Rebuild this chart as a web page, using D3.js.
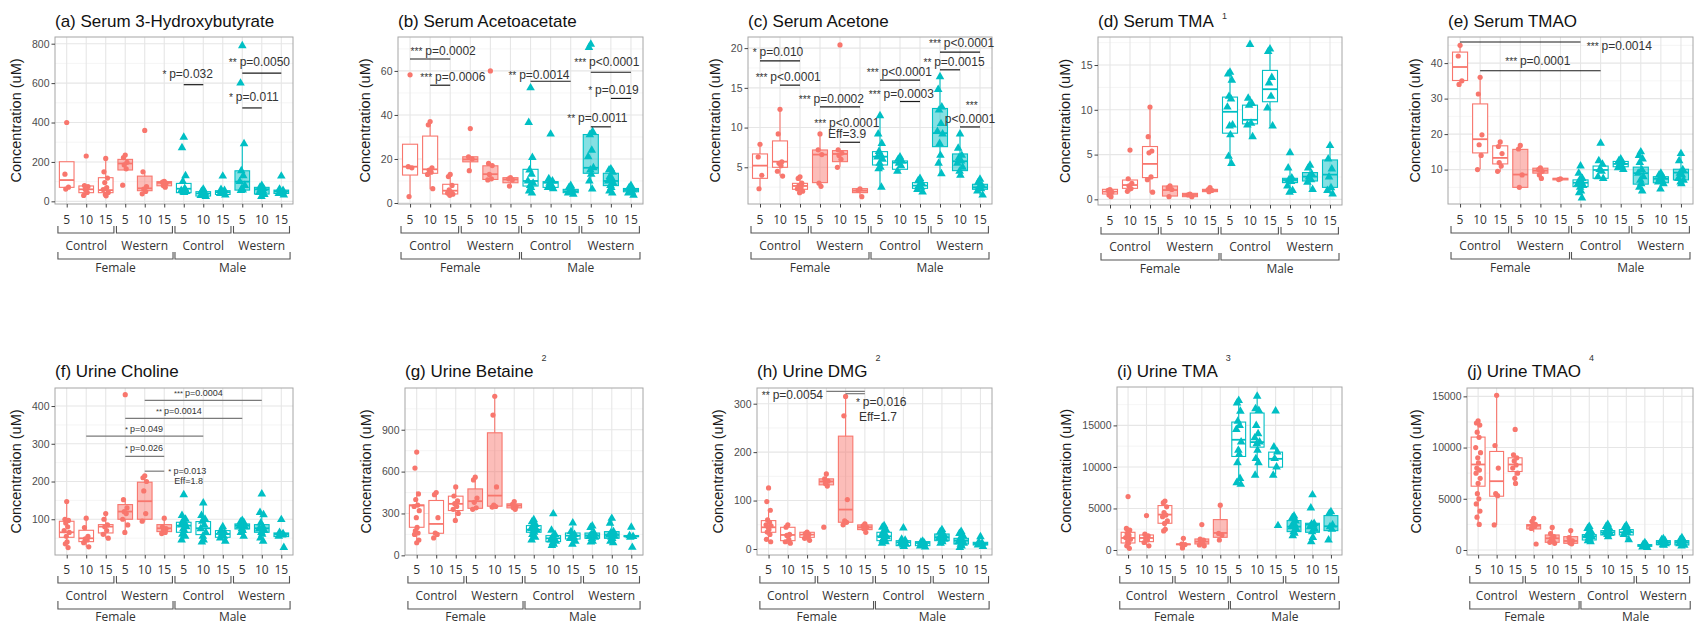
<!DOCTYPE html>
<html>
<head>
<meta charset="utf-8">
<script src="https://cdn.jsdelivr.net/npm/d3@7"></script>
<style>
  body { margin: 0; background: #fff; }
  svg { display: block; }
</style>
</head>
<body>
<svg id="fig" width="1694" height="624"></svg>
<script>
// ---- factor levels -------------------------------------------------------
const doses = ["5", "10", "15"];
const diets = ["Control", "Western"];
const sexes = ["Female", "Male"];

// ---- (a) Serum 3-Hydroxybutyrate ----------------------------------------
// box rows: [lower whisker, Q1, median, Q3, upper whisker]
const hbBox = [[62,71,108,201,201],[30,44,61,78,80],[28,44,57,120,218],[159,159,192,213,235],[38,54,66,128,150],[72,79,94,100,102],
  [40,44,64,91,130],[25,27,40,49,62],[32,35,47,54,62],[55,57,100,155,292],[25,37,61,71,80],[32,40,51,57,62]];
const hbPts = [[400,138,72,62],[230,80,75,60,45,30],[218,150,118,95,70,60,45,35,28],[235,222,198,185,165,82],[360,150,75,62,50,38],[102,98,92,80,72],
  [325,272,130,100,65,55,50,48,45],[62,50,42,38,35,30,25],[128,60,55,50,45,40,32],[790,600,292,155,130,100,80,65,58,55],[80,72,65,60,55,45,35,25],[128,62,55,50,45,40,32]];
const hbDomain = [-13.5, 834];
const hbTicks = [0, 200, 400, 600, 800];
const hbSigLines = [[7,8,592],[10,12,651],[10,11,474]];
const hbSigText = [["*","p=0.032",7.2,628],["**","p=0.0050",10.88,687],["*","p=0.011",10.59,510]];

// ---- (b) Serum Acetoacetate ---------------------------------------------
const aaBox = [[2.9,12.7,16.5,26.7,26.7],[6.2,13.5,15.3,30.4,37.3],[3.5,4.1,5.6,8.5,13.1],[14.7,18.7,19.8,21,21],[10.5,10.7,13.1,16.9,18.3],[7.7,9.2,10.7,11.5,11.5],
  [4.5,7.7,10,15.3,20.7],[6.5,7.1,9.2,9.7,11],[4,4.7,5.4,6.2,8],[6.3,13.5,16,31.1,33],[4.5,7.9,10,13.5,15.5],[3.5,5.1,5.9,6.6,8]];
const aaPts = [[58.2,16.5,16,2.9],[37,35.5,16,15,14,13,6.5],[13,12,8,6,5,4.5,4,3.5],[33.8,21,20,14.7],[60,18,17,13,11,10.5],[11.5,11,10.5,7.7],
  [52.3,36.6,20.7,15,13,10,9,8,7,5.5,4.5],[31.3,11,10,9,8,7,6.5],[8,7,6,5.5,5,4.5,4],[72.1,70.6,32.5,31,24,21,16,15,13,10,6.3],[15.5,15,14,12,11,10,9,8,7,5.5,4.5],[8,7,6,5.5,5,4.5,3.5]];
const aaDomain = [-0.45, 75.4];
const aaTicks = [0, 20, 40, 60];
const aaSigLines = [[1,3,65.4],[2,3,53.5],[7,9,55.3],[10,12,59.4],[11,12,47.5],[10,11,34.6]];
const aaSigText = [["***","p=0.0002",2.65,67.4],["***","p=0.0006",3.13,55.3],["**","p=0.0014",7.42,56.4],["***","p<0.0001",10.8,62.1],["*","p=0.019",11.13,49.3],["**","p=0.0011",10.33,36.9]];

// ---- (c) Serum Acetone ---------------------------------------------------
const acBox = [[2.31,3.61,5.21,6.68,7.94],[3.95,5.0,5.71,8.32,12.4],[1.8,2.23,2.65,2.98,3.8],[2.6,3.07,6.6,7.18,9.2],[5.08,5.71,6.68,7.1,7.2],[1.3,1.81,2.06,2.31,2.31],
  [2.5,5.29,6.34,6.97,11.5],[4.5,4.75,5.59,5.8,6.3],[1.9,2.35,2.69,3.07,3.6],[4.2,7.6,9.3,12.4,16.5],[4.0,4.58,5.76,6.68,9.2],[1.5,2.23,2.48,2.86,3.5]];
const acPts = [[7.9,6.3,4.0,2.3],[12.3,9.2,5.7,5.5,5.2,4.5,3.9],[3.8,3.6,3.0,2.7,2.5,2.3,2.0,1.8],[9.2,7.2,6.6,3.0,2.6],[20.4,7.2,6.8,6.5,6.0,5.0],[2.3,2.1,1.3],
  [11.5,9.2,8.0,7.0,6.5,6.3,6.0,5.5,5.0,4.8,2.5],[6.3,6.0,5.8,5.5,5.2,4.5],[3.6,3.3,3.0,2.7,2.5,2.2,1.9],[16.4,14.8,12.6,12.2,10.5,9.5,9.2,8.0,6.5,5.5,4.2],[9.2,7.4,6.5,6.2,5.8,5.5,5.0,4.5,4.0],[3.5,3.1,2.7,2.5,2.3,2.0,1.5]];
const acDomain = [0.38, 21.4];
const acTicks = [5, 10, 15, 20];
const acSigLines = [[1,3,18.4],[2,3,15.34],[4,6,12.6],[5,6,8.15],[7,9,15.97],[8,9,13.28],[10,12,19.5],[10,11,17.27],[11,12,10.08]];
const acSigText = [["*","p=0.010",1.9,18.95],["***","p<0.0001",2.41,15.8],["***","p=0.0002",4.57,13.1],["***","p<0.0001",5.34,10.04],["","Eff=3.9",5.35,8.66],
  ["***","p<0.0001",7.97,16.43],["***","p=0.0003",8.07,13.74],["***","p<0.0001",11.08,20.08],["**","p=0.0015",10.7,17.8],["***","",11.59,12.4],["","p<0.0001",11.5,10.63]];

// ---- (d) Serum TMA --------------------------------------------------------
const stmaBox = [[0.3,0.6,0.86,1.12,1.12],[0.82,1.23,1.6,2.16,2.35],[0.75,2.43,3.96,5.9,10.37],[0.3,0.37,1.04,1.49,1.5],[0.3,0.3,0.49,0.67,0.67],[0.85,0.86,1.0,1.12,1.3],
  [4.0,7.39,9.78,11.42,14.4],[6.83,8.43,8.88,10.52,11.5],[8.2,10.9,12.3,14.4,16.9],[1.0,1.87,2.16,2.35,3.5],[1.1,2.05,2.54,2.99,3.8],[0.6,1.34,2.76,4.4,6.16]];
const stmaPts = [[1.1,1.0,0.8,0.5,0.3],[5.5,2.3,1.8,1.5,1.2,0.9],[10.3,7.0,5.4,5.2,2.5,2.2,0.8],[1.5,1.3,1.1,0.3],[0.6,0.5,0.3],[1.3,1.1,1.0,0.85],
  [14.2,14.0,13.3,11.5,11.2,10.3,8.3,8.2,7.2,4.8,4.0],[17.3,11.3,10.7,10.5,8.5,8.3,7.0],[16.8,16.5,13.6,13.0,11.5,10.2,8.2],[5.2,3.5,2.4,2.2,2.0,1.5,1.0,0.8],[3.8,3.5,2.8,2.5,2.2,1.9,1.1],[6.0,4.5,3.4,2.5,1.3,1.0,0.6]];
const stmaDomain = [-0.63, 18.13];
const stmaTicks = [0, 5, 10, 15];

// ---- (e) Serum TMAO -------------------------------------------------------
const stmaoBox = [[34.2,35.1,38.9,43.1,45.5],[10.1,14.7,18.56,28.5,36.2],[9.4,11.6,13.3,16.7,18.2],[5.0,5.0,8.6,15.7,16.8],[7.5,9.0,9.7,10.4,10.5],[7.1,7.1,7.4,7.55,7.55],
  [3.5,5.2,6.3,7.1,9.0],[7.5,7.55,9.9,11.0,12.5],[10.0,10.8,11.6,12.3,13.0],[4.1,5.9,9.0,10.7,15.1],[4.5,6.3,7.4,8.0,9.15],[6.0,7.1,9.15,10.1,14.6]];
const stmaoPts = [[45,42,35,34],[36,31.3,19.8,17,14,10],[17.8,16.5,14.5,12,11,9.5],[16.8,15.8,8.5,5.0],[10.5,10,9.5,8.5,7.5],[7.4,7.2],
  [11,9,7.5,7,6.5,6,5.5,5,4,3.5,2],[17.4,12.5,11.5,10,9.5,8.0,7.5],[13,12.5,12,11.5,11,10.5,10],[15,14,13,12,10,9,8,7,6,5,4],[9,8.5,8,7.5,7,6.5,6,4.5],[14.5,12.5,10,9,8.5,7.5,7,6.5,6]];
const stmaoDomain = [0.31, 47.35];
const stmaoTicks = [10, 20, 30, 40];
const stmaoSigLines = [[1,7,45.94],[2,8,37.85]];
const stmaoSigText = [["***","p=0.0014",8.93,43.8],["***","p=0.0001",4.87,39.35]];

// ---- (f) Urine Choline ----------------------------------------------------
const choBox = [[24.8,52.2,65.5,94.7,147],[27.4,40.7,49.6,70.8,103.5],[49.6,63.7,80.5,85.8,115.9],[65.5,100,120.4,138.9,152],[93.8,100,147.8,198.2,217.7],[61,67.3,76.1,85.8,103.5],
  [45.1,65.5,83.2,92,111.5],[39,59.3,76.1,93.8,143.4],[40.7,52.2,61,69.9,83.2],[56.6,74.3,83.2,87.6,99],[40.7,65.5,76.1,85.8,118.6],[54,54,61,63.7,65]];
const choPts = [[147,100,97,90,80,70,65,55,40,35,25],[103,78,55,48,45,38,27],[115,100,85,80,70,60,50],[430,152,130,120,115,100,85,65],[215,210,200,175,115,95],[103,80,75,70,65,62],
  [165,110,100,95,90,85,80,75,70,60,55,45],[143,110,100,95,85,75,65,55,45,40],[80,70,65,60,55,50,42],[97,93,90,88,85,82,80,75,70,65,55],[167,118,112,90,80,75,70,65,60,50,42],[99,65,62,60,58,55,25]];
const choDomain = [5.3, 447.8];
const choTicks = [100, 200, 300, 400];
const choSigLines = [[5,11,415],[4,10,367.3],[2,8,320.4],[4,6,266.4],[5,6,227.4]];
const choSigText = [["***","p=0.0004",7.75,426.5],["**","p=0.0014",6.75,377.9],["*","p=0.049",4.96,331.9],["*","p=0.026",4.96,280.5],["*","p=0.013",7.18,220.4],["","Eff=1.8",7.25,193.8]];

// ---- (g) Urine Betaine ----------------------------------------------------
const betBox = [[93,201,357,361,457],[129,158,225,393,457],[249,321,369,424,500],[330,337,388,476,567],[345,352,428,878,1146],[330,340,357,369,385],
  [98,165,184,213,256],[69,98,122,141,184],[80,117,141,160,213],[93,122,141,160,218],[93,122,146,170,266],[130,134,136,141,141]];
const betPts = [[740,625,440,400,360,350,320,270,200,175,160,150,110,90],[450,435,270,160,150,125],[490,425,390,370,350,330,300,250],[560,540,410,380,340,330],[1140,1005,490,360,350,345],[385,365,350,340,330],
  [255,240,220,210,200,190,185,175,165,150,130,110],[297,180,150,130,120,110,100,90,80,70],[232,170,150,140,130,120,100,80],[210,200,160,150,140,135,130,120,100,95],[265,230,170,160,150,145,140,130,120,100,90],[201,140,135,130,57]];
const betDomain = [2.4, 1199];
const betTicks = [0, 300, 600, 900];

// ---- (h) Urine DMG --------------------------------------------------------
const dmgBox = [[13.8,34.5,44.8,58.6,81.4],[10.3,17.2,29,44.8,50.3],[17.2,24.1,29.7,34.5,35.9],[129.7,132.4,139.3,144.8,157.2],[50.3,55.2,81.4,233,318.6],[34.5,40,44.8,49.7,52],
  [10.3,17.2,26.2,34.5,49.7],[3.4,6.9,13.8,17.2,22],[4,6.9,12.4,15.2,16],[6.9,17.2,24.1,31,44.8],[3.4,10.3,17.2,22,38],[5,8.3,11,13.8,14]];
const dmgPts = [[126,98,80,60,55,50,48,45,40,35,30,20,15],[50,45,30,28,20,15,12],[35,32,30,28,25,22,18],[155,145,140,135,130,45],[315,275,102,58,55,50],[52,48,45,42,34.5],
  [48,45,40,35,30,28,25,22,20,18,15,12],[43.4,20,18,15,13,12,10,8,5],[16,14,12,10,8,6,4],[40,35,30,28,25,23,20,18,15,12],[36,32,28,22,18,15,12,10,6,3],[25.5,14,12,11,10,8,5]];
const dmgDomain = [-12.4, 332.4];
const dmgTicks = [0, 100, 200, 300];
const dmgSigLines = [[4,6,325.5],[5,6,320.7]];
const dmgSigText = [["**","p=0.0054",2.24,309],["*","p=0.016",6.85,296],["","Eff=1.7",6.68,264]];

// ---- (i) Urine TMA --------------------------------------------------------
const utmaBox = [[201,844,1448,2131,2735],[523,1005,1448,1810,2131],[2252,3217,4263,5348,6032],[281,643,684,724,1407],[500,724,1005,1327,1400],[1086,1528,2051,3659,5549],
  [7882,11260,13271,15402,18217],[8968,12386,12989,16488,18700],[9089,9973,10978,11783,12386],[1649,2212,2815,3539,4263],[1005,2131,3056,3217,3300],[1247,2332,2855,4142,4665]];
const utmaPts = [[6434,2600,2400,2000,1800,1500,1300,1000,800,500,200],[4142,1900,1700,1400,1200,900,500],[5900,5700,5200,4500,4200,4000,3500,3200,2500,2300],[1400,700,650,250],[3056,1300,1200,1000,800,600,500],[5400,2000,1800,1200],
  [18000,17700,16700,15500,15000,14500,13000,12000,11500,10500,8600,8100,7900],[18500,17000,16800,15000,14000,13500,13000,12800,12000,11000,10500,9000],[16729,12400,11800,11000,10000,9000,2936],
  [4100,3900,3500,3200,3000,2800,2500,2200,2000,1700],[6635,5067,3200,3100,3000,2800,2500,2200,1500,1000],[4600,4400,3000,2800,2500,1200]];
const utmaDomain = [-603, 19624];
const utmaTicks = [0, 5000, 10000, 15000];

// ---- (j) Urine TMAO -------------------------------------------------------
const utmaoBox = [[2446,6228,8348,11022,12652],[2446,5250,6717,9620,15163],[6456,7663,8348,9000,9326],[1728,2054,2380,2478,3130],[652,750,1141,1467,2283],[587,652,880,1304,1891],
  [750,978,1337,1500,2380],[1239,1467,1728,1891,2543],[913,1467,1728,1989,2380],[228,359,457,522,750],[424,522,750,913,1141],[359,489,750,913,1239]];
const utmaoPts = [[12600,12400,12200,11500,11000,10000,9500,9000,8500,8000,7800,7500,7000,6500,5500,5000,4500,3800,3200,2500],[15100,10200,8000,5500,5300,2450],[11772,9300,9000,8700,8300,8000,7500,7000,6500],
  [3100,2800,2500,2400,2300,2100,587],[2200,1600,1300,1100,900,750,650],[1900,1200,900,700,600],
  [2300,2100,1800,1600,1500,1400,1300,1200,1000,900,800],[2500,2300,2100,1900,1800,1700,1600,1500,1300],[2400,2200,2000,1800,1700,1500,1000],
  [700,550,500,450,400,300,250],[1100,1000,900,800,750,700,600,500,450],[1200,1000,900,800,700,600,450,400]];
const utmaoDomain = [-489, 15815];
const utmaoTicks = [0, 5000, 10000, 15000];

// ---- panel list -----------------------------------------------------------
const panels = [
  { title: "(a) Serum 3-Hydroxybutyrate", sup: "", box: hbBox, pts: hbPts, domain: hbDomain, ticks: hbTicks, lines: hbSigLines, labels: hbSigText },
  { title: "(b) Serum Acetoacetate", sup: "", box: aaBox, pts: aaPts, domain: aaDomain, ticks: aaTicks, lines: aaSigLines, labels: aaSigText },
  { title: "(c) Serum Acetone", sup: "", box: acBox, pts: acPts, domain: acDomain, ticks: acTicks, lines: acSigLines, labels: acSigText },
  { title: "(d) Serum TMA", sup: "1", box: stmaBox, pts: stmaPts, domain: stmaDomain, ticks: stmaTicks, lines: [], labels: [] },
  { title: "(e) Serum TMAO", sup: "", box: stmaoBox, pts: stmaoPts, domain: stmaoDomain, ticks: stmaoTicks, lines: stmaoSigLines, labels: stmaoSigText },
  { title: "(f) Urine Choline", sup: "", box: choBox, pts: choPts, domain: choDomain, ticks: choTicks, lines: choSigLines, labels: choSigText, smallSig: true },
  { title: "(g) Urine Betaine", sup: "2", box: betBox, pts: betPts, domain: betDomain, ticks: betTicks, lines: [], labels: [] },
  { title: "(h) Urine DMG", sup: "2", box: dmgBox, pts: dmgPts, domain: dmgDomain, ticks: dmgTicks, lines: dmgSigLines, labels: dmgSigText, greySig: true },
  { title: "(i) Urine TMA", sup: "3", box: utmaBox, pts: utmaPts, domain: utmaDomain, ticks: utmaTicks, lines: [], labels: [] },
  { title: "(j) Urine TMAO", sup: "4", box: utmaoBox, pts: utmaoPts, domain: utmaoDomain, ticks: utmaoTicks, lines: [], labels: [] }
];

// ---- page layout (panel rectangles in px) ---------------------------------
const frames = [
  { l: 55,   t: 37,  r: 293,  b: 204, row: 0 },
  { l: 398,  t: 37,  r: 643,  b: 204, row: 0 },
  { l: 748,  t: 37,  r: 992,  b: 204, row: 0 },
  { l: 1098, t: 37,  r: 1342, b: 205, row: 0 },
  { l: 1448, t: 37,  r: 1693, b: 204, row: 0 },
  { l: 55,   t: 388, r: 293,  b: 555, row: 1 },
  { l: 405,  t: 388, r: 643,  b: 555, row: 1 },
  { l: 757,  t: 388, r: 992,  b: 555, row: 1 },
  { l: 1117, t: 387, r: 1342, b: 555, row: 1 },
  { l: 1467, t: 388, r: 1693, b: 555, row: 1 }
];
const rowStyle = [
  { titleY: 27,  supDy: -8,  xlab: 20, b1: [22, 29], dietY: 46, b2: [48, 55], sexY: 68 },
  { titleY: 377, supDy: -16, xlab: 19, b1: [21, 28], dietY: 45, b2: [46, 54], sexY: 66 }
];

const sexColor = { Female: "#F8766D", Male: "#00BFC4" };
const jitter = [0, -0.09, 0.09, -0.05, 0.05, -0.13, 0.13, -0.02, 0.02, -0.07, 0.07, -0.11, 0.11, 0.0, -0.04, 0.04, -0.1, 0.1, -0.06, 0.06];
const SANS = "'Liberation Sans', Arial, Helvetica, sans-serif";
const LABEL = "'Open Sans', 'Noto Sans', sans-serif";

// 12 groups: sex x diet x dose
const groups = [];
sexes.forEach(s => diets.forEach(d => doses.forEach(k => groups.push({ sex: s, diet: d, dose: k }))));

const svg = d3.select("#fig");

panels.forEach((P, pi) => {
  const F = frames[pi];
  const R = rowStyle[F.row];
  const g = svg.append("g");
  const x = d3.scaleLinear().domain([0.4, 12.6]).range([F.l, F.r]);
  const y = d3.scaleLinear().domain(P.domain).range([F.b, F.t]);

  // panel background and grid
  g.append("rect").attr("x", F.l).attr("y", F.t).attr("width", F.r - F.l).attr("height", F.b - F.t).attr("fill", "#fff");
  const step = P.ticks[1] - P.ticks[0];
  const minor = [];
  for (let v = P.ticks[0] - step / 2; v <= P.domain[1]; v += step) {
    if (v >= P.domain[0] && !P.ticks.includes(v)) minor.push(v);
  }
  g.selectAll(".minor").data(minor).join("line")
    .attr("x1", F.l).attr("x2", F.r).attr("y1", d => y(d)).attr("y2", d => y(d))
    .attr("stroke", "#F0F0F0").attr("stroke-width", 0.7);
  g.selectAll(".major").data(P.ticks).join("line")
    .attr("x1", F.l).attr("x2", F.r).attr("y1", d => y(d)).attr("y2", d => y(d))
    .attr("stroke", "#E6E6E6").attr("stroke-width", 1.1);
  g.selectAll(".vgrid").data(d3.range(1, 13)).join("line")
    .attr("x1", d => x(d)).attr("x2", d => x(d)).attr("y1", F.t).attr("y2", F.b)
    .attr("stroke", "#E6E6E6").attr("stroke-width", 1.1);

  // boxes
  const hw = 0.375;
  groups.forEach((grp, i) => {
    const [lo, q1, med, q3, hi] = P.box[i];
    const c = sexColor[grp.sex];
    const cx = x(i + 1);
    const bg = g.append("g");
    bg.append("line").attr("x1", cx).attr("x2", cx).attr("y1", y(hi)).attr("y2", y(q3)).attr("stroke", c).attr("stroke-width", 1.1);
    bg.append("line").attr("x1", cx).attr("x2", cx).attr("y1", y(q1)).attr("y2", y(lo)).attr("stroke", c).attr("stroke-width", 1.1);
    bg.append("rect")
      .attr("x", x(i + 1 - hw)).attr("width", x(i + 1 + hw) - x(i + 1 - hw))
      .attr("y", y(q3)).attr("height", Math.max(0.5, y(q1) - y(q3)))
      .attr("fill", grp.diet === "Western" ? c : "#fff")
      .attr("fill-opacity", grp.diet === "Western" ? 0.48 : 1)
      .attr("stroke", c).attr("stroke-width", 1.1);
    bg.append("line").attr("x1", x(i + 1 - hw)).attr("x2", x(i + 1 + hw)).attr("y1", y(med)).attr("y2", y(med))
      .attr("stroke", c).attr("stroke-width", 1.8);
  });

  // observations
  const tri = d3.symbol(d3.symbolTriangle, 32)();
  groups.forEach((grp, i) => {
    const c = sexColor[grp.sex];
    P.pts[i].forEach((v, j) => {
      const px = x(i + 1 + jitter[j % jitter.length]);
      const py = y(v);
      if (grp.sex === "Female") {
        g.append("circle").attr("cx", px).attr("cy", py).attr("r", 2.6).attr("fill", c);
      } else {
        g.append("path").attr("d", tri).attr("transform", `translate(${px},${py})`).attr("fill", c);
      }
    });
  });

  // panel border
  g.append("rect").attr("x", F.l).attr("y", F.t).attr("width", F.r - F.l).attr("height", F.b - F.t)
    .attr("fill", "none").attr("stroke", "#A6A6A6").attr("stroke-width", 1);

  // y axis
  const ya = g.append("g").attr("transform", `translate(${F.l},0)`)
    .call(d3.axisLeft(y).tickValues(P.ticks).tickFormat(d3.format("d")).tickSize(3.5).tickPadding(2).tickSizeOuter(0));
  ya.select(".domain").remove();
  ya.selectAll(".tick line").attr("stroke", "#444");
  ya.selectAll(".tick text").attr("font-family", SANS).attr("font-size", 10.5).attr("fill", "#4D4D4D");

  // x axis
  const xa = g.append("g").attr("transform", `translate(0,${F.b})`)
    .call(d3.axisBottom(x).tickValues(d3.range(1, 13)).tickFormat(d => doses[(d - 1) % 3]).tickSize(3.5).tickSizeOuter(0));
  xa.select(".domain").remove();
  xa.selectAll(".tick line").attr("stroke", "#444");
  xa.selectAll(".tick text").remove();
  g.selectAll(".dose").data(groups).join("text")
    .attr("x", (d, i) => x(i + 1)).attr("y", F.b + R.xlab)
    .attr("text-anchor", "middle").attr("font-family", LABEL).attr("font-size", 12).attr("fill", "#333")
    .text(d => d.dose);

  // diet and sex brackets
  const bracket = (a, b, y0, y1) => {
    const p = d3.path();
    p.moveTo(x(a), y0); p.lineTo(x(a), y1); p.lineTo(x(b), y1); p.lineTo(x(b), y0);
    g.append("path").attr("d", p.toString()).attr("fill", "none").attr("stroke", "#555").attr("stroke-width", 1.1);
  };
  [0, 1, 2, 3].forEach(k => {
    const first = k * 3 + 1, last = k * 3 + 3;
    bracket(first - 0.45, last + 0.42, F.b + R.b1[0], F.b + R.b1[1]);
    g.append("text").attr("x", x((first + last) / 2)).attr("y", F.b + R.dietY)
      .attr("text-anchor", "middle").attr("font-family", LABEL).attr("font-size", 12).attr("fill", "#333")
      .text(diets[k % 2]);
  });
  [0, 1].forEach(k => {
    const first = k * 6 + 1, last = k * 6 + 6;
    bracket(first - 0.45, last + 0.45, F.b + R.b2[0], F.b + R.b2[1]);
    g.append("text").attr("x", x((first + last) / 2)).attr("y", F.b + R.sexY)
      .attr("text-anchor", "middle").attr("font-family", LABEL).attr("font-size", 12).attr("fill", "#333")
      .text(sexes[k]);
  });

  // y title, placed just left of the widest tick label
  const labLeft = d3.min(ya.selectAll(".tick text").nodes(), n => F.l - 3.5 - 2 - n.getComputedTextLength());
  g.append("text").attr("transform", `translate(${labLeft - 11},${(F.t + F.b) / 2}) rotate(-90)`)
    .attr("text-anchor", "middle").attr("font-family", SANS).attr("font-size", 14.5).attr("fill", "#1a1a1a")
    .text("Concentration (uM)");

  // title with optional footnote mark
  const tt = g.append("text").attr("x", F.l).attr("y", R.titleY)
    .attr("font-family", SANS).attr("font-size", 17).attr("fill", "#111").text(P.title);
  if (P.sup) {
    const w = tt.node().getComputedTextLength();
    g.append("text").attr("x", F.l + w + 8).attr("y", R.titleY + R.supDy)
      .attr("font-family", SANS).attr("font-size", 9).attr("fill", "#333").text(P.sup);
  }

  // significance bars and labels
  const lineCol = P.greySig || P.smallSig ? "#7a7a7a" : "#1a1a1a";
  P.lines.forEach(([a, b, v]) => {
    g.append("line").attr("x1", x(a)).attr("x2", x(b)).attr("y1", y(v)).attr("y2", y(v))
      .attr("stroke", lineCol).attr("stroke-width", 1.2);
  });
  const fs = P.smallSig ? 9 : 12;
  P.labels.forEach(([stars, txt, tx, tv]) => {
    const t = g.append("text").attr("x", x(tx)).attr("y", y(tv)).attr("text-anchor", "middle")
      .attr("font-family", SANS).attr("font-size", fs).attr("fill", "#333");
    if (stars) t.append("tspan").attr("font-size", fs * 0.85).text(stars + (txt ? " " : ""));
    if (txt) t.append("tspan").text(txt);
  });
});
</script>
</body>
</html>
